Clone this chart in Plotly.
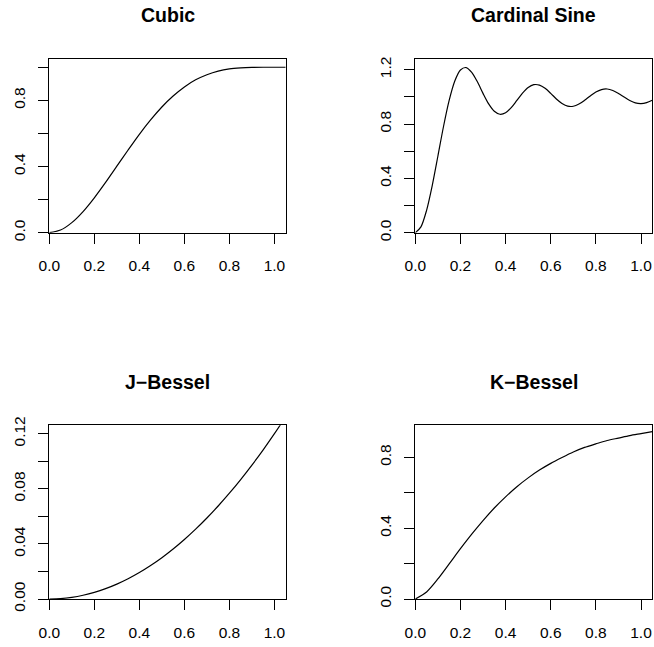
import plotly.graph_objects as go

# ---- data ----
x_step05 = [0.00, 0.05, 0.10, 0.15, 0.20, 0.25, 0.30, 0.35, 0.40, 0.45, 0.50,
            0.55, 0.60, 0.65, 0.70, 0.75, 0.80, 0.85, 0.90, 0.95, 1.00, 1.05]
cubic_y = [0.000, 0.016, 0.061, 0.128, 0.211, 0.304, 0.402, 0.500, 0.595, 0.682, 0.760,
           0.826, 0.881, 0.924, 0.955, 0.977, 0.990, 0.996, 0.999, 1.000, 1.000, 1.000]

x_step025 = [0.000, 0.025, 0.050, 0.075, 0.100, 0.125, 0.150, 0.175, 0.200, 0.225,
             0.250, 0.275, 0.300, 0.325, 0.350, 0.375, 0.400, 0.425, 0.450, 0.475,
             0.500, 0.525, 0.550, 0.575, 0.600, 0.625, 0.650, 0.675, 0.700, 0.725,
             0.750, 0.775, 0.800, 0.825, 0.850, 0.875, 0.900, 0.925, 0.950, 0.975,
             1.000, 1.025, 1.050]
sine_y = [0.000, 0.043, 0.165, 0.347, 0.563, 0.782, 0.974, 1.117, 1.198, 1.216,
          1.181, 1.111, 1.026, 0.948, 0.894, 0.872, 0.883, 0.921, 0.974, 1.027,
          1.069, 1.090, 1.087, 1.063, 1.026, 0.985, 0.952, 0.932, 0.931, 0.947,
          0.975, 1.007, 1.036, 1.054, 1.058, 1.047, 1.025, 0.999, 0.974, 0.956,
          0.951, 0.958, 0.975]

jbessel_y = [0.0000, 0.0003, 0.0012, 0.0027, 0.0048, 0.0075, 0.0108, 0.0147, 0.0192, 0.0243, 0.0300,
             0.0363, 0.0432, 0.0507, 0.0588, 0.0675, 0.0768, 0.0867, 0.0972, 0.1083, 0.1200, 0.1323]

kbessel_y = [0.000, 0.040, 0.113, 0.198, 0.284, 0.366, 0.443, 0.514, 0.577, 0.634, 0.684,
             0.728, 0.766, 0.799, 0.830, 0.856, 0.876, 0.895, 0.909, 0.923, 0.934, 0.945]

titles = ["Cubic", "Cardinal Sine", "J\u2212Bessel", "K\u2212Bessel"]

x_ticks = [0.0, 0.2, 0.4, 0.6, 0.8, 1.0]
x_ticktext = ["0.0", "0.2", "0.4", "0.6", "0.8", "1.0"]

cubic_yticks = [0.0, 0.2, 0.4, 0.6, 0.8, 1.0]
cubic_ytext = ["0.0", "", "0.4", "", "0.8", ""]
sine_yticks = [0.0, 0.2, 0.4, 0.6, 0.8, 1.0, 1.2]
sine_ytext = ["0.0", "", "0.4", "", "0.8", "", "1.2"]
jb_yticks = [0.00, 0.02, 0.04, 0.06, 0.08, 0.10, 0.12]
jb_ytext = ["0.00", "", "0.04", "", "0.08", "", "0.12"]
kb_yticks = [0.0, 0.2, 0.4, 0.6, 0.8]
kb_ytext = ["0.0", "", "0.4", "", "0.8"]

y_ranges = [[0, 1.05], [0, 1.279], [0, 0.1261], [0, 0.981]]
x_range = [0, 1.05]

# ---- layout geometry (pixels) ----
W, H = 654, 647
cols = [(49.3, 285.7), (415.3, 652.3)]
rows = [(59.0, 232.7), (425.3, 599.0)]

FONT = "Liberation Sans, Arial, Helvetica, sans-serif"

fig = go.Figure()

panels = [
    (x_step05, cubic_y, cubic_yticks, cubic_ytext),
    (x_step025, sine_y, sine_yticks, sine_ytext),
    (x_step05, jbessel_y, jb_yticks, jb_ytext),
    (x_step05, kbessel_y, kb_yticks, kb_ytext),
]

for i, (xs, ys, yt, ytt) in enumerate(panels):
    r, c = divmod(i, 2)
    n = "" if i == 0 else str(i + 1)
    fig.add_trace(go.Scatter(
        x=xs, y=ys, mode="lines",
        line=dict(color="black", width=1.2, shape="spline", smoothing=0.8),
        xaxis="x" + n, yaxis="y" + n, showlegend=False, hoverinfo="skip"))
    x0, x1 = cols[c]
    ytop, ybot = rows[r]
    common = dict(showline=True, linecolor="black", linewidth=1, mirror=True,
                  ticks="outside", ticklen=10, tickwidth=1, tickcolor="black",
                  showgrid=False, zeroline=False, automargin=False,
                  tickfont=dict(family=FONT, size=15.5, color="black"))
    fig.update_layout(**{
        "xaxis" + n: dict(domain=[x0 / W, x1 / W], range=x_range,
                          anchor="y" + n, tickvals=x_ticks, ticktext=x_ticktext,
                          ticklabelstandoff=9, **common),
        "yaxis" + n: dict(domain=[1 - ybot / H, 1 - ytop / H], range=y_ranges[i],
                          anchor="x" + n, tickvals=yt, ticktext=ytt,
                          tickangle=-90, ticklabelstandoff=7, **common),
    })
    fig.add_annotation(
        text="<b>" + titles[i] + "</b>", xref="paper", yref="paper",
        x=(x0 + x1) / 2 / W, y=1 - (ytop - 43.5) / H,
        xanchor="center", yanchor="middle", showarrow=False,
        font=dict(family=FONT, size=19.5, color="black"))

fig.update_layout(
    width=W, height=H, margin=dict(l=0, r=0, t=0, b=0, autoexpand=False),
    paper_bgcolor="white", plot_bgcolor="white",
)

fig.write_html("out.html", config={"displayModeBar": False, "staticPlot": True},
               post_script="document.body.style.margin='0';document.body.style.overflow='hidden';")
